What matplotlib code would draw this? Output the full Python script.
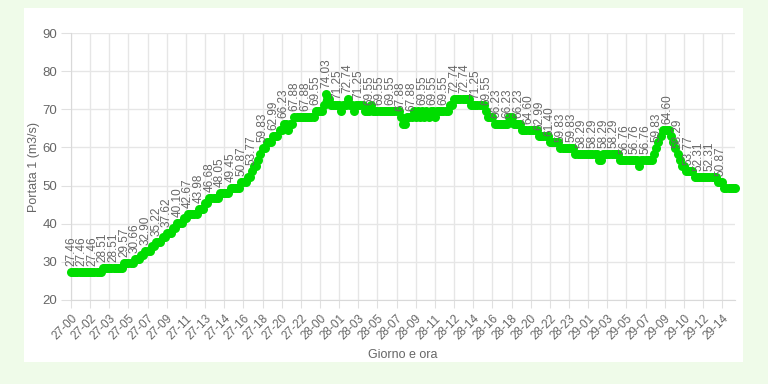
import matplotlib
matplotlib.use("Agg")
import matplotlib.pyplot as plt
from matplotlib.patches import Rectangle

plt.rcParams['font.family'] = ['Liberation Sans', 'DejaVu Sans']

# Portata 1 (m3/s) readings (5 readings per hourly label)
portata = [
    27.46, 27.46, 27.46, 27.46, 27.46,
    27.46, 27.46, 27.46, 27.46, 27.46,
    27.46, 27.46, 27.46, 27.46, 27.46,
    28.51, 28.51, 28.51, 28.51, 28.51,
    28.51, 28.51, 28.51, 28.51, 28.51,
    29.57, 29.57, 29.57, 29.57, 29.57,
    30.66, 30.66, 30.66, 31.77, 31.77,
    32.90, 32.90, 32.90, 34.05, 34.05,
    35.22, 35.22, 35.22, 36.41, 36.41,
    37.62, 37.62, 37.62, 38.85, 38.85,
    40.10, 40.10, 40.10, 41.37, 41.37,
    42.67, 42.67, 42.67, 42.67, 42.67,
    43.98, 43.98, 43.98, 45.32, 45.32,
    46.68, 46.68, 46.68, 46.68, 46.68,
    48.05, 48.05, 48.05, 48.05, 48.05,
    49.45, 49.45, 49.45, 49.45, 49.45,
    50.87, 50.87, 50.87, 52.31, 52.31,
    53.77, 55.26, 55.26, 56.76, 58.29,
    59.83, 59.83, 61.40, 61.40, 61.40,
    62.99, 62.99, 62.99, 64.60, 64.60,
    66.23, 66.23, 64.60, 66.23, 66.23,
    67.88, 67.88, 67.88, 67.88, 67.88,
    67.88, 67.88, 67.88, 67.88, 67.88,
    69.55, 69.55, 69.55, 69.55, 71.25,
    74.03, 72.74, 71.25, 71.25, 71.25,
    71.25, 71.25, 69.55, 71.25, 71.25,
    72.74, 71.25, 71.25, 69.55, 71.25,
    71.25, 71.25, 71.25, 69.55, 69.55,
    69.55, 71.25, 69.55, 69.55, 69.55,
    69.55, 69.55, 69.55, 69.55, 69.55,
    69.55, 69.55, 69.55, 69.55, 69.55,
    67.88, 66.23, 66.23, 67.88, 67.88,
    67.88, 69.55, 67.88, 69.55, 67.88,
    69.55, 67.88, 69.55, 67.88, 69.55,
    69.55, 67.88, 69.55, 69.55, 69.55,
    69.55, 69.55, 69.55, 71.25, 71.25,
    72.74, 72.74, 72.74, 72.74, 72.74,
    72.74, 72.74, 72.74, 71.25, 71.25,
    71.25, 71.25, 71.25, 71.25, 71.25,
    69.55, 67.88, 67.88, 67.88, 66.23,
    66.23, 66.23, 66.23, 66.23, 66.23,
    66.23, 67.88, 67.88, 66.23, 66.23,
    66.23, 66.23, 64.60, 64.60, 64.60,
    64.60, 64.60, 64.60, 64.60, 64.60,
    62.99, 62.99, 62.99, 62.99, 62.99,
    61.40, 61.40, 61.40, 61.40, 61.40,
    59.83, 59.83, 59.83, 59.83, 59.83,
    59.83, 59.83, 58.29, 58.29, 58.29,
    58.29, 58.29, 58.29, 58.29, 58.29,
    58.29, 58.29, 58.29, 56.76, 56.76,
    58.29, 58.29, 58.29, 58.29, 58.29,
    58.29, 58.29, 58.29, 56.76, 56.76,
    56.76, 56.76, 56.76, 56.76, 56.76,
    56.76, 56.76, 55.26, 56.76, 56.76,
    56.76, 56.76, 56.76, 56.76, 58.29,
    59.83, 61.40, 62.99, 64.60, 64.60,
    64.60, 64.60, 62.99, 61.40, 59.83,
    58.29, 56.76, 55.26, 55.26, 53.77,
    53.77, 53.77, 53.77, 52.31, 52.31,
    52.31, 52.31, 52.31, 52.31, 52.31,
    52.31, 52.31, 52.31, 52.31, 50.87,
    50.87, 50.87, 49.45, 49.45, 49.45,
    49.45, 49.45, 49.45,
]

tick_labels = [
    "27-00", "27-02", "27-03", "27-05", "27-07", "27-09", "27-11", "27-13",
    "27-14", "27-16", "27-18", "27-20", "27-22", "28-00", "28-01", "28-03",
    "28-05", "28-07", "28-09", "28-11", "28-12", "28-14", "28-16", "28-18",
    "28-20", "28-22", "28-23", "29-01", "29-03", "29-05", "29-07", "29-09",
    "29-10", "29-12", "29-14",
]
tick_every = 9
label_every = 5

W, H = 768, 384
fig = plt.figure(figsize=(W / 100, H / 100), dpi=100)
fig.patch.set_facecolor("#effbe9")
panel = Rectangle((24 / W, (H - 362) / H), (743 - 24) / W, (362 - 8) / H,
                  transform=fig.transFigure, facecolor="white",
                  edgecolor="none", zorder=-10)
fig.add_artist(panel)

ax = fig.add_axes([71 / W, (H - 300) / H, (735 - 71) / W, (300 - 33) / H])
ax.set_zorder(5)
ax.set_facecolor("white")

n = len(portata)
x = list(range(n))
green = "#00dd00"
ax.plot(x, portata, color=green, lw=3.2, marker="o", markersize=6.5,
        markeredgewidth=0, zorder=3, clip_on=False)

for i in range(0, n - label_every, label_every):
    ax.annotate(f"{portata[i]:.2f}", (i, portata[i]), xytext=(0, 6),
                textcoords="offset pixels", rotation=90, ha="center",
                va="bottom", fontsize=8.5, color="#666666", zorder=4)

ax.set_xlim(0, n - 1)
ax.set_ylim(20, 90)
ax.set_yticks(range(20, 91, 10))
ticks = [k * tick_every for k in range(len(tick_labels))]
ax.set_xticks(ticks)
ax.set_xticklabels(tick_labels, rotation=45, ha="right", va="top",
                   rotation_mode="anchor", fontsize=8.5, color="#666666")
ax.tick_params(axis="x", length=6, color="#e0e0e0", pad=3)
ax.tick_params(axis="y", length=7, color="#e0e0e0", labelsize=9.5,
               labelcolor="#666666", pad=3)
ax.grid(True, color="#e6e6e6", lw=1)
ax.set_axisbelow(True)
for s in ["top", "right"]:
    ax.spines[s].set_visible(False)
for s in ["left", "bottom"]:
    ax.spines[s].set_color("#d9d9d9")

ax.set_ylabel("Portata 1 (m3/s)", fontsize=9, color="#666666", labelpad=2)
ax.set_xlabel("Giorno e ora", fontsize=9, color="#666666", labelpad=5)

fig.savefig("out.png", dpi=100, facecolor=fig.get_facecolor())
